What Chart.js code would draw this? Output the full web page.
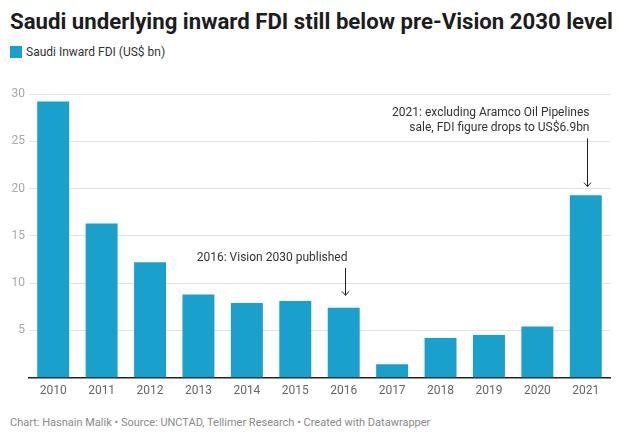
<!DOCTYPE html>
<html>
<head>
<meta charset="utf-8">
<script src="https://cdn.jsdelivr.net/npm/chart.js@4"></script>
<style>
    body { margin: 0; background: #fff; font-family: Roboto, sans-serif; }
    #wrap { position: relative; width: 620px; height: 440px; }
    #title { position: absolute; left: 10px; top: 8px; font-size: 22.2px; font-weight: 700; color: #1d1d1d; white-space: nowrap; }
    #legend { position: absolute; left: 10px; top: 45px; font-size: 12px; color: #333; display: flex; align-items: center; }
    #legend .sw { width: 12px; height: 12px; background: #1aa0cc; margin-right: 4px; }
    #chartBox { position: absolute; left: 0; top: 80px; width: 620px; height: 324px; }
    #footer { position: absolute; left: 10px; top: 416px; font-size: 11px; color: #8a8a8a; white-space: nowrap; }
</style>
</head>
<body>
<div id="wrap">
    <div id="title">Saudi underlying inward FDI still below pre-Vision 2030 level</div>
    <div id="legend"><span class="sw"></span>Saudi Inward FDI (US$ bn)</div>
    <div id="chartBox"><canvas id="fdiChart"></canvas></div>
    <div id="footer">Chart: Hasnain Malik • Source: UNCTAD, Tellimer Research • Created with Datawrapper</div>
</div>
<script>
// DATA
const years = ['2010', '2011', '2012', '2013', '2014', '2015', '2016', '2017', '2018', '2019', '2020', '2021'];
const inwardFdi = [29.2, 16.3, 12.2, 8.8, 7.9, 8.1, 7.4, 1.4, 4.2, 4.5, 5.4, 19.3];
const yTicks = [5, 10, 15, 20, 25, 30];

// notes: year, text lines, arrow from/to (in US$ bn)
const notes = [
    { year: '2016', lines: ['2016: Vision 2030 published'], from: 11.6, to: 8.7 },
    { year: '2021', lines: ['2021: excluding Aramco Oil Pipelines', 'sale, FDI figure drops to US$6.9bn'], from: 25.3, to: 20.2 }
];

const notePlugin = {
    id: 'notes',
    afterDatasetsDraw(chart) {
        const ctx = chart.ctx;
        const xs = chart.scales.x;
        const ys = chart.scales.y;
        ctx.save();
        ctx.strokeStyle = '#222';
        ctx.fillStyle = '#333';
        ctx.lineWidth = 1;
        ctx.font = '12px Roboto';
        notes.forEach(n => {
            const x = Math.round(xs.getPixelForValue(years.indexOf(n.year))) + 1.5;
            const y1 = ys.getPixelForValue(n.from);
            const y2 = ys.getPixelForValue(n.to);
            // arrow
            ctx.beginPath();
            ctx.moveTo(x, y1);
            ctx.lineTo(x, y2);
            ctx.moveTo(x - 3.5, y2 - 4);
            ctx.lineTo(x, y2);
            ctx.lineTo(x + 3.5, y2 - 4);
            ctx.stroke();
            // text
            ctx.textAlign = 'right';
            ctx.textBaseline = 'alphabetic';
            const lh = 15;
            n.lines.forEach((line, i) => {
                const ty = y1 - 7 - (n.lines.length - 1 - i) * lh;
                ctx.fillText(line, x + 2, ty);
            });
        });
        ctx.restore();
    }
};

const ctx = document.getElementById('fdiChart').getContext('2d');
const myChart = new Chart(ctx, {
    type: 'bar',
    data: {
        labels: years,
        datasets: [{
            label: 'Saudi Inward FDI (US$ bn)',
            data: inwardFdi,
            backgroundColor: '#1aa0cc',
            categoryPercentage: 1,
            barPercentage: 0.66
        }]
    },
    options: {
        responsive: true,
        maintainAspectRatio: false,
        animation: false,
        layout: { padding: { top: 14, right: 10, left: 0, bottom: 0 } },
        plugins: {
            legend: { display: false },
            tooltip: { enabled: false }
        },
        scales: {
            x: {
                grid: { display: false, drawTicks: false },
                border: { color: '#222', width: 1.5 },
                ticks: { color: '#666', font: { family: 'Roboto', size: 12 }, padding: 6 }
            },
            y: {
                min: 0,
                max: 30,
                afterBuildTicks(axis) {
                    axis.ticks = yTicks.map(v => ({ value: v }));
                },
                afterFit(axis) { axis.width = 29; },
                grid: { color: '#e3e3e3', drawTicks: false },
                border: { display: false },
                ticks: { color: '#a8a8a8', font: { family: 'Roboto', size: 12 }, padding: 4 }
            }
        }
    },
    plugins: [notePlugin]
});
</script>
</body>
</html>
